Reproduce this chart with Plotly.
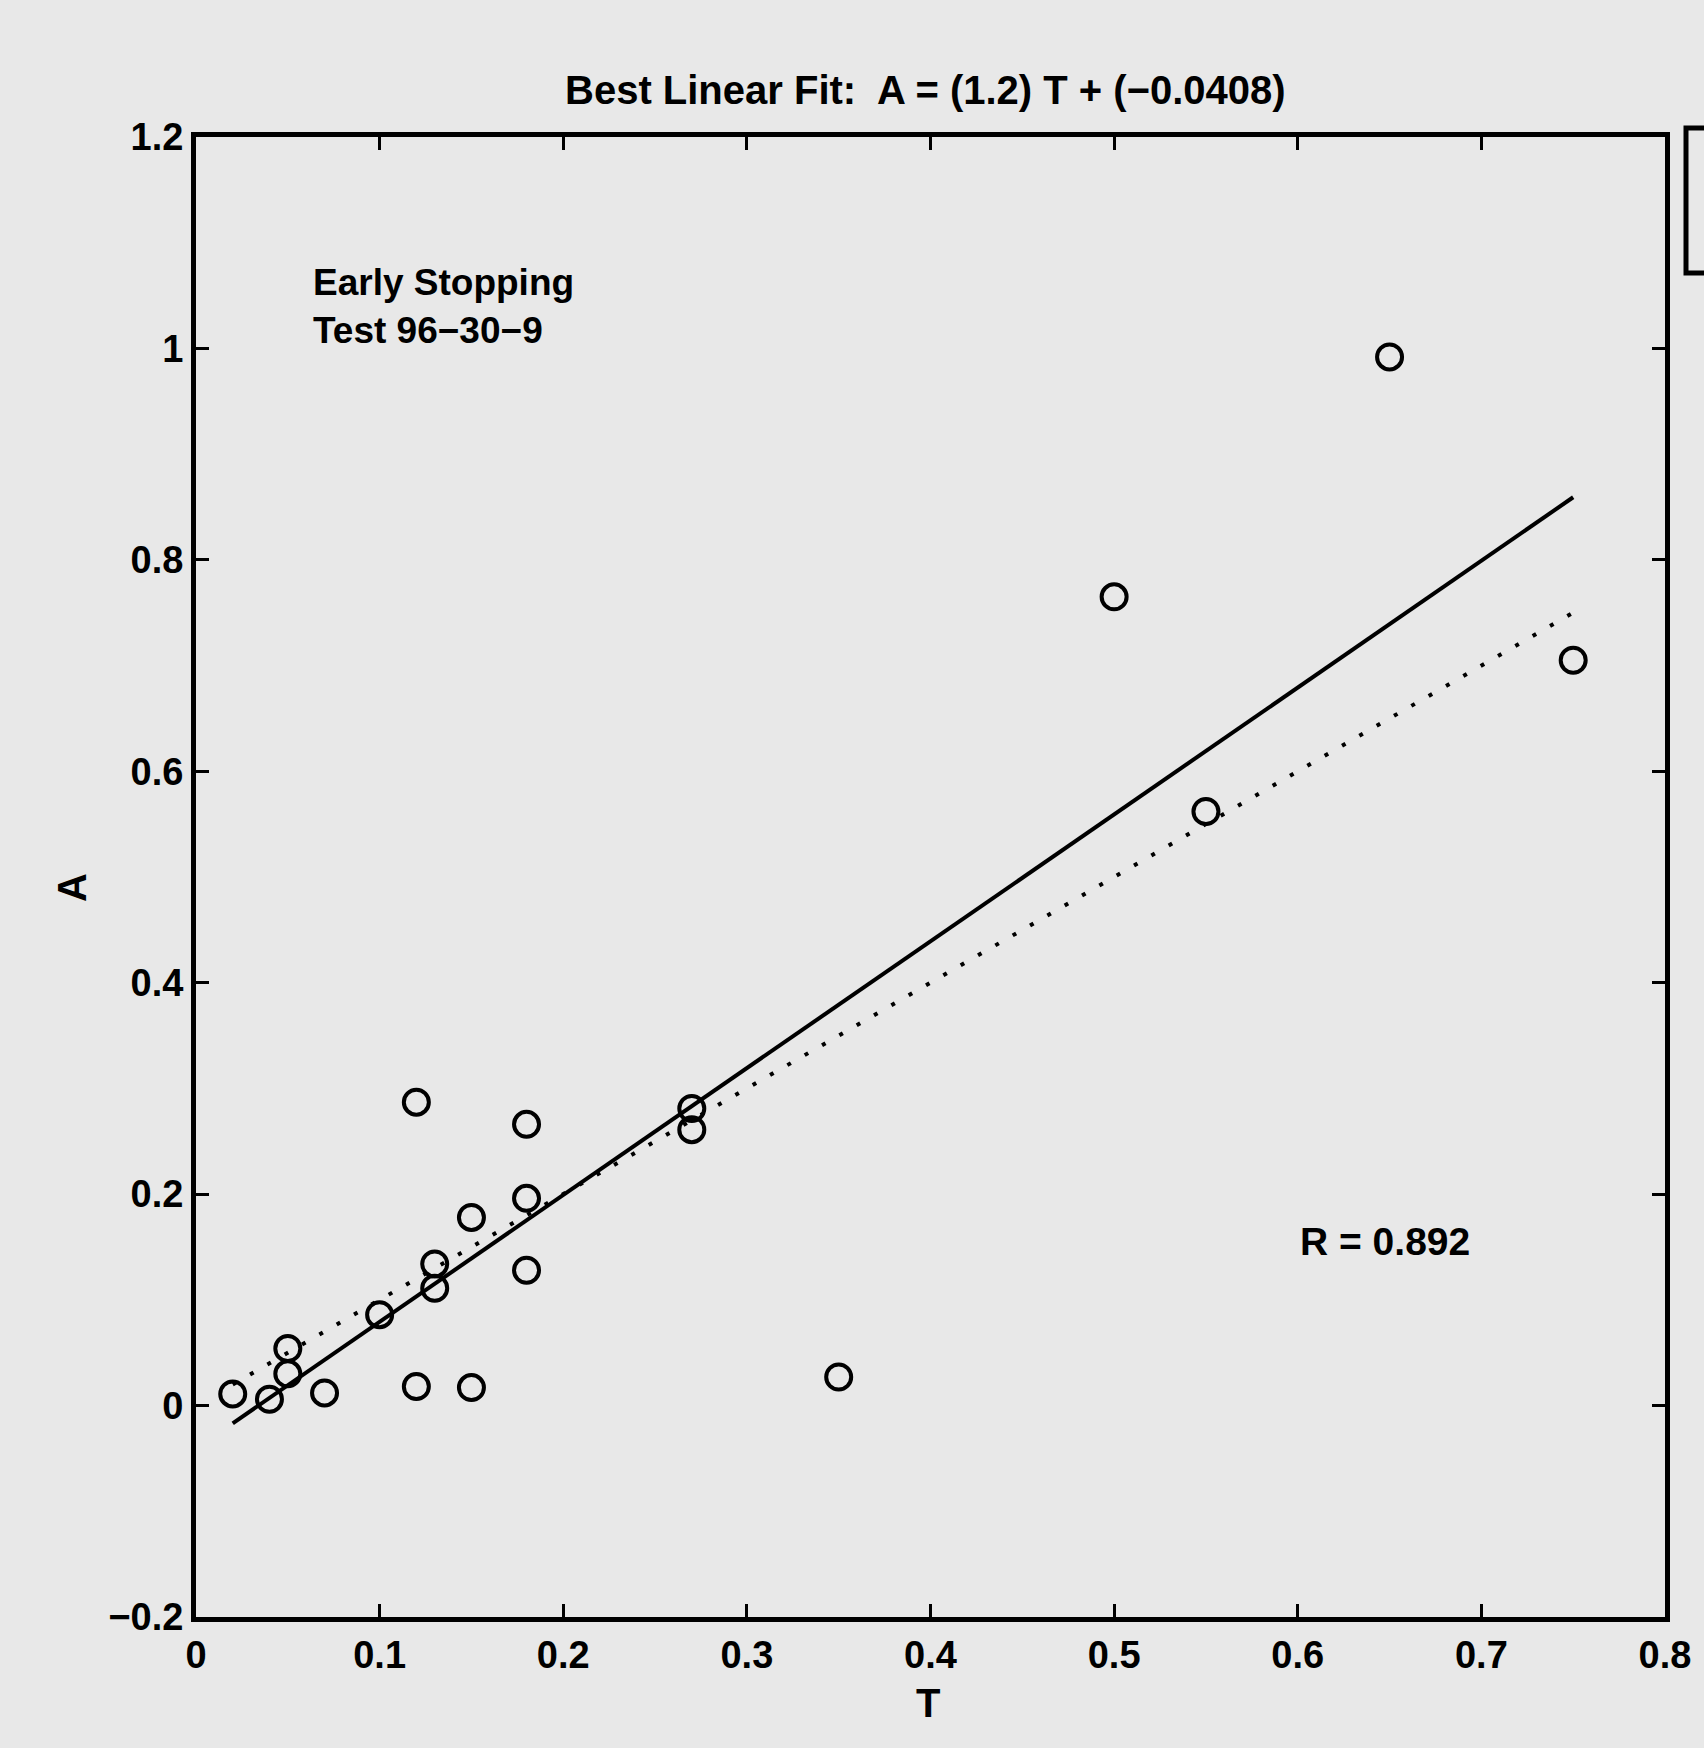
import plotly.graph_objects as go

# ---- data ----
T_vals = [0.02, 0.04, 0.05, 0.05, 0.07, 0.10, 0.12, 0.12, 0.13, 0.13, 0.15,
          0.15, 0.18, 0.18, 0.18, 0.27, 0.27, 0.35, 0.50, 0.55, 0.65, 0.75]
A_vals = [0.011, 0.006, 0.054, 0.030, 0.012, 0.086, 0.287, 0.018, 0.134, 0.111,
          0.178, 0.017, 0.266, 0.196, 0.128, 0.281, 0.261, 0.027, 0.765, 0.562,
          0.992, 0.705]
SLOPE = 1.2
INTERCEPT = -0.0408
line_T = [0.02, 0.75]
x_ticks = [0, 0.1, 0.2, 0.3, 0.4, 0.5, 0.6, 0.7, 0.8]
x_tick_text = ["0", "0.1", "0.2", "0.3", "0.4", "0.5", "0.6", "0.7", "0.8"]
y_ticks = [-0.2, 0, 0.2, 0.4, 0.6, 0.8, 1.0, 1.2]
y_tick_text = ["\u22120.2", "0", "0.2", "0.4", "0.6", "0.8", "1", "1.2"]

W, H = 1704, 1748
L, R, TOP, BOT = 196, 1665, 137, 1617
BG = "#e8e8e8"
FONT = "Liberation Sans, Arial, sans-serif"


def px(x, y):
    return (x - L) / (R - L), (BOT - y) / (BOT - TOP)


fit_A = [SLOPE * t + INTERCEPT for t in line_T]

fig = go.Figure()
fig.add_trace(go.Scatter(x=line_T, y=line_T, mode="lines",
                         line=dict(color="black", width=4, dash="4px,16px"),
                         showlegend=False, hoverinfo="skip"))
fig.add_trace(go.Scatter(x=line_T, y=fit_A, mode="lines",
                         line=dict(color="black", width=4),
                         showlegend=False, hoverinfo="skip"))
fig.add_trace(go.Scatter(x=T_vals, y=A_vals, mode="markers",
                         marker=dict(symbol="circle-open", size=25, color="black",
                                     line=dict(width=4, color="black")),
                         showlegend=False))

annots = []
def add_text(text, x, y, size, xanchor="center", yanchor="middle", angle=0):
    xp, yp = px(x, y)
    annots.append(dict(text=text, x=xp, y=yp, xref="paper", yref="paper",
                       xanchor=xanchor, yanchor=yanchor, showarrow=False,
                       textangle=angle, align="left",
                       font=dict(family=FONT, size=size, color="black", weight="bold")))

add_text("Best Linear Fit:  A = (1.2) T + (\u22120.0408)", 925, 90, 40)
add_text("Early Stopping<br>Test 96\u221230\u22129", 311, 306, 37, xanchor="left")
add_text("R = 0.892", 1298, 1241, 39, xanchor="left")
add_text("A", 72, 888, 40, angle=-90)
add_text("T", 928, 1703, 40)

x0, y0 = px(1686, 128)
x1, y1 = px(1720, 273)
shapes = [dict(type="rect", xref="paper", yref="paper", x0=x0, y0=y1, x1=x1, y1=y0,
               line=dict(color="black", width=5), fillcolor="rgba(0,0,0,0)")]

axis_common = dict(showgrid=False, zeroline=False, showline=True, linecolor="black",
                   linewidth=5, mirror="ticks", ticks="inside", ticklen=13,
                   tickwidth=3, tickcolor="black",
                   tickfont=dict(family=FONT, size=38, color="black", weight="bold"))

fig.update_layout(
    width=W, height=H,
    margin=dict(l=L, r=W - R, t=TOP, b=H - BOT),
    paper_bgcolor=BG, plot_bgcolor=BG,
    xaxis=dict(range=[0, 0.8], tickvals=x_ticks, ticktext=x_tick_text, **axis_common),
    yaxis=dict(range=[-0.2, 1.2], tickvals=y_ticks, ticktext=y_tick_text, **axis_common),
    annotations=annots, shapes=shapes,
)

fig.write_html("out.html")
